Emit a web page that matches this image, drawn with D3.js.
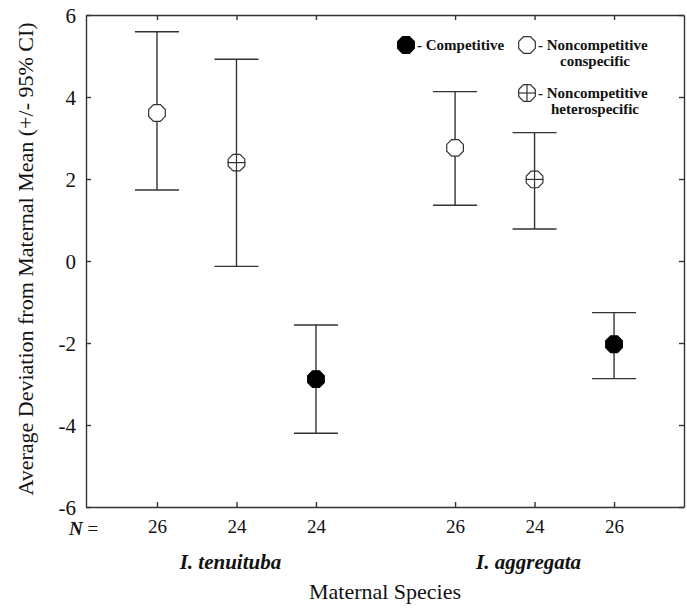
<!DOCTYPE html>
<html>
<head>
<meta charset="utf-8">
<script src="https://cdn.jsdelivr.net/npm/d3@7"></script>
<style>
  body { margin: 0; background: #fff; }
  svg text { font-family: "Liberation Serif", "Times New Roman", serif; fill: #111; }
</style>
</head>
<body>
<div id="chart"></div>
<script>
// data
var species = ["I. tenuituba", "I. aggregata"];
var xPos = [1, 2, 3, 4.75, 5.75, 6.75];
var markerType = ["open", "cross", "filled", "open", "cross", "filled"];
var means = [3.61, 2.40, -2.88, 2.76, 1.99, -2.03];
var upper = [5.59, 4.92, -1.56, 4.13, 3.13, -1.26];
var lower = [1.73, -0.13, -4.20, 1.36, 0.78, -2.87];
var nValues = [26, 24, 24, 26, 24, 26];
var yTicks = [-6, -4, -2, 0, 2, 4, 6];

var width = 687, height = 609;
var plotLeft = 86, plotRight = 684, plotTop = 15, plotBottom = 507;
var serif = "'Liberation Serif', 'Times New Roman', serif";

var svg = d3.select("#chart").append("svg")
  .attr("width", width)
  .attr("height", height);

var x = d3.scaleLinear().domain([0.107, 7.63]).range([plotLeft, plotRight]);
var y = d3.scaleLinear().domain([-6, 6]).range([plotBottom, plotTop]);

var stroke = "#333";

// axes, ticks pointing inward
var yAxis = d3.axisLeft(y).tickValues(yTicks).tickSizeInner(-5).tickSizeOuter(0).tickPadding(10)
  .tickFormat(function(d) { return String(d); });
var gy = svg.append("g").attr("transform", "translate(" + plotLeft + ",0)").call(yAxis);
gy.selectAll("text").style("font-size", "21px").attr("dy", "0.38em");

var yAxisR = d3.axisRight(y).tickValues(yTicks).tickSizeInner(-5).tickSizeOuter(0).tickFormat("");
svg.append("g").attr("transform", "translate(" + plotRight + ",0)").call(yAxisR);

var xAxis = d3.axisBottom(x).tickValues(xPos).tickSizeInner(-5).tickSizeOuter(0).tickPadding(13)
  .tickFormat(function(d, i) { return nValues[i]; });
var gx = svg.append("g").attr("transform", "translate(0," + plotBottom + ")").call(xAxis);
gx.selectAll("text").style("font-size", "19px");

var xAxisT = d3.axisTop(x).tickValues(xPos).tickSizeInner(-5).tickSizeOuter(0).tickFormat("");
svg.append("g").attr("transform", "translate(0," + plotTop + ")").call(xAxisT);

svg.selectAll(".domain, .tick line").attr("stroke", stroke).attr("stroke-width", 1.4);

// "N =" label
var nLab = svg.append("text")
  .attr("x", 69).attr("y", 535)
  .style("font-size", "19px");
nLab.append("tspan").text("N").style("font-weight", "bold").style("font-style", "italic");
nLab.append("tspan").text(" =");

// species labels
svg.selectAll(".species")
  .data(species)
  .enter().append("text")
  .attr("class", "species")
  .attr("x", function(d, i) { return (x(xPos[i * 3]) + x(xPos[i * 3 + 2])) / 2 - 6; })
  .attr("y", 569)
  .attr("text-anchor", "middle")
  .style("font-size", "21px")
  .style("font-style", "italic")
  .style("font-weight", "bold")
  .text(function(d) { return d; });

svg.append("text")
  .attr("x", (plotLeft + plotRight) / 2)
  .attr("y", 599)
  .attr("text-anchor", "middle")
  .style("font-size", "22px")
  .text("Maternal Species");

svg.append("text")
  .attr("transform", "translate(33," + ((plotTop + plotBottom) / 2 - 2) + ") rotate(-90)")
  .attr("text-anchor", "middle")
  .style("font-size", "22px")
  .text("Average Deviation from Maternal Mean (+/- 95% CI)");

// octagon marker
var R = 9;
function octagon(r) {
  var pts = d3.range(8).map(function(k) {
    var a = Math.PI / 8 + k * Math.PI / 4;
    return [r * Math.cos(a), r * Math.sin(a)];
  });
  return d3.line()(pts) + "Z";
}

function drawMarker(g, type) {
  g.append("path")
    .attr("d", octagon(R))
    .attr("fill", type == "filled" ? "#000" : "#fff")
    .attr("stroke", type == "filled" ? "#000" : stroke)
    .attr("stroke-width", 1.2);
  if (type == "cross") {
    g.append("line").attr("x1", -R).attr("x2", R).attr("y1", 0).attr("y2", 0)
      .attr("stroke", stroke).attr("stroke-width", 1.2);
    g.append("line").attr("x1", 0).attr("x2", 0).attr("y1", -R).attr("y2", R)
      .attr("stroke", stroke).attr("stroke-width", 1.2);
  }
}

// error bars
var capW = 22;
var bars = svg.selectAll(".bar")
  .data(xPos)
  .enter().append("g")
  .attr("class", "bar");

bars.append("line")
  .attr("x1", function(d) { return x(d); })
  .attr("x2", function(d) { return x(d); })
  .attr("y1", function(d, i) { return y(upper[i]); })
  .attr("y2", function(d, i) { return y(lower[i]); });
bars.append("line")
  .attr("x1", function(d) { return x(d) - capW; })
  .attr("x2", function(d) { return x(d) + capW; })
  .attr("y1", function(d, i) { return y(upper[i]); })
  .attr("y2", function(d, i) { return y(upper[i]); });
bars.append("line")
  .attr("x1", function(d) { return x(d) - capW; })
  .attr("x2", function(d) { return x(d) + capW; })
  .attr("y1", function(d, i) { return y(lower[i]); })
  .attr("y2", function(d, i) { return y(lower[i]); });
bars.selectAll("line").attr("stroke", stroke).attr("stroke-width", 1.4);

bars.each(function(d, i) {
  var g = d3.select(this).append("g")
    .attr("transform", "translate(" + x(d) + "," + y(means[i]) + ")");
  drawMarker(g, markerType[i]);
});

// legend
var legend = [
  {type: "filled", lines: ["- Competitive"], mx: 406, my: 45},
  {type: "open", lines: ["- Noncompetitive", "conspecific"], mx: 527, my: 45},
  {type: "cross", lines: ["- Noncompetitive", "heterospecific"], mx: 527, my: 93}
];
legend.forEach(function(l) {
  var g = svg.append("g").attr("transform", "translate(" + l.mx + "," + l.my + ")");
  drawMarker(g, l.type);
  var t = svg.append("text")
    .attr("x", l.mx + 11)
    .attr("y", l.my + 5)
    .style("font-size", "15px")
    .style("font-weight", "bold");
  t.append("tspan").text(l.lines[0]);
  if (l.lines.length > 1) {
    t.append("tspan").attr("x", l.mx + 68).attr("dy", 16).attr("text-anchor", "middle").text(l.lines[1]);
  }
});

// force the serif face on every label, axis groups included
svg.selectAll("text").style("font-family", serif);
</script>
</body>
</html>
